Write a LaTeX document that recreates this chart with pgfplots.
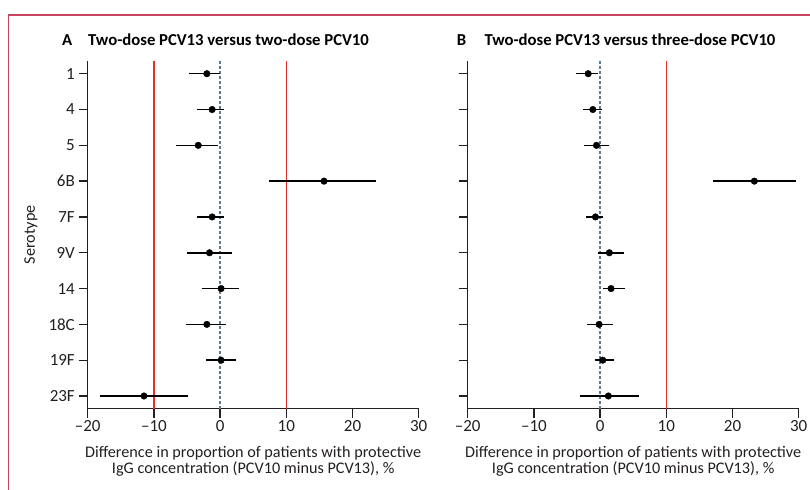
\documentclass[border=0pt]{standalone}
\usepackage{fontspec}
\setmainfont{Carlito}
\usepackage{pgfplots}
\usepackage{pgfplotstable}
\pgfplotsset{compat=1.18}

\definecolor{frame}{HTML}{C8435E}
\definecolor{refred}{HTML}{E5302A}
\definecolor{zeroline}{HTML}{5E7A8C}
\definecolor{ink}{HTML}{231F20}

% serotype rows: y=10 is serotype 1 (top), y=1 is 23F (bottom)
\pgfplotstableread{
y  m      lo     hi
10 -2.0  -4.7   0.0
9  -1.2  -3.5   0.65
8  -3.3  -6.7  -0.35
7  15.7   7.4  23.5
6  -1.2  -3.5   0.65
5  -1.6  -5.0   1.75
4   0.15 -2.7   2.9
3  -2.0  -5.2   0.95
2   0.15 -2.2   2.4
1 -11.5 -18.2  -4.8
}\dataA

\pgfplotstableread{
y  m      lo     hi
10 -1.8  -3.6  -0.3
9  -1.1  -2.6   0.25
8  -0.55 -2.4   1.3
7  23.3  17.0  29.6
6  -0.7  -2.1   0.45
5   1.4  -0.3   3.6
4   1.65  0.4   3.8
3  -0.15 -2.0   1.9
2   0.4  -0.8   2.15
1   1.25 -3.1   5.8
}\dataB

\newcommand\lblfont{\fontsize{16.2bp}{15.6bp}\selectfont}
\newcommand\tckfont{\fontsize{17bp}{17bp}\selectfont}
\newcommand\ttlfont{\bfseries\fontsize{16.7bp}{18bp}\selectfont}

\pgfplotsset{
  forest/.style={
    scale only axis,
    width=331bp, height=347.7bp,
    xmin=-20, xmax=30, ymin=0.645, ymax=10.355,
    axis x line*=bottom, axis y line*=left,
    axis line style={line width=1.5bp, ink},
    xtick={-20,-10,0,10,20,30},
    xticklabels={--20,--10,0,10,20,30},
    ytick={1,...,10},
    tick align=outside,
    major tick length=9bp,
    tick style={line width=1.3bp, ink},
    ticklabel style={font=\tckfont, text=ink, inner sep=0pt},
    yticklabel style={xshift=-3.7bp},
    xticklabel style={yshift=-2.5bp},
    xlabel style={font=\lblfont, align=center, text=ink, inner sep=0pt,
      at={(axis description cs:0.5,0)}, anchor=north, yshift=-37.5bp},
    xlabel={Difference in proportion of patients with protective\\IgG concentration (PCV10 minus PCV13), \%},
    clip=false,
  },
  ci/.style={
    only marks, mark=*, mark size=3.3bp, black,
    mark options={fill=black, draw=black},
    error bars/.cd, x dir=both, x explicit,
    error bar style={line width=1.5bp, black},
    error mark=none,
  },
}

\begin{document}
\begin{tikzpicture}
\useasboundingbox (0,0) rectangle (810bp,-490bp);
\draw[frame, line width=1.3bp] (8.5bp,-491bp) -- (8.5bp,-15bp) -- (811bp,-15bp);

\node[anchor=base west, inner sep=0pt, font=\ttlfont] at (62bp,-45bp) {A};
\node[anchor=base west, inner sep=0pt, font=\ttlfont] at (88bp,-45bp) {Two-dose PCV13 versus two-dose PCV10};
\node[anchor=base west, inner sep=0pt, font=\ttlfont] at (456.7bp,-45bp) {B};
\node[anchor=base west, inner sep=0pt, font=\ttlfont] at (484.3bp,-45bp) {Two-dose PCV13 versus three-dose PCV10};
\node[rotate=90, font=\lblfont, text=ink] at (31bp,-234.8bp) {Serotype};

\begin{axis}[forest, at={(87.7bp,-408.7bp)}, anchor=south west,
  yticklabels={23F,19F,18C,14,9V,7F,6B,5,4,1}]
\addplot[refred, line width=1.3bp] coordinates {(-10,0.645) (-10,10.355)};
\addplot[refred, line width=1.3bp] coordinates {(10,0.645) (10,10.355)};
\addplot[zeroline, line width=1.3bp, dash pattern=on 3bp off 2bp] coordinates {(0,0.645) (0,10.355)};
\addplot[ci] table[x=m, y=y,
  x error plus expr=\thisrow{hi}-\thisrow{m},
  x error minus expr=\thisrow{m}-\thisrow{lo}] {\dataA};
\end{axis}

\begin{axis}[forest, at={(467.7bp,-408.7bp)}, anchor=south west,
  yticklabels={}]
\addplot[refred, line width=1.3bp] coordinates {(10,0.645) (10,10.355)};
\addplot[zeroline, line width=1.3bp, dash pattern=on 3bp off 2bp] coordinates {(0,0.645) (0,10.355)};
\addplot[ci] table[x=m, y=y,
  x error plus expr=\thisrow{hi}-\thisrow{m},
  x error minus expr=\thisrow{m}-\thisrow{lo}] {\dataB};
\end{axis}
\end{tikzpicture}
\end{document}
